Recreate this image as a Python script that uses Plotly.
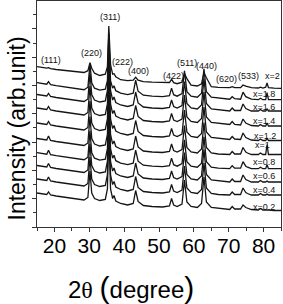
import plotly.graph_objects as go

# 2-theta sampling positions (degree), shared by all patterns
two_theta = [15, 16.5, 17.8, 18.3, 18.9, 20.5, 22.5, 24.5, 26.5, 28.5,
             29.6, 30.2, 30.7, 31.5, 33, 34.6, 35.2, 35.6, 36.1, 36.7,
             37.1, 37.6, 39, 41, 42.6, 43.3, 44.0, 45.5, 48, 51,
             53.0, 53.6, 54.2, 55.2, 56.6, 57.3, 58.0, 59.2, 61.0, 62.2,
             62.9, 63.6, 65, 67, 70.3, 71.0, 71.7, 73.4, 74.1, 74.9,
             75.4, 76.5, 78.5, 79.1, 79.8, 80.6, 81.0, 81.4, 83, 85]

# sample labels (bottom to top) and vertical offsets of the stacked patterns
samples = ["x=0.2", "x=0.4", "x=0.6", "x=0.8", "x=1", "x=1.2", "x=1.4", "x=1.6", "x=1.8", "x=2"]
offsets = [34, 48, 61.5, 74.3, 88.5, 104, 119, 132.5, 144.3, 160.3]

# relative intensity of each pattern (arb. unit)
pat_02 = [0, -1, -1.5, 1, -2, -3, -4, -5, -6, -7,
          -4.5, 22, 0, -5.5, -7.5, -6.5, 4, 60, 4, -5.5,
          -2.5, -8, -10.5, -12, -10.5, 2.5, -8.5, -12.5, -13.5, -14,
          -13, -5.5, -12, -13.5, -11, 13, -9, -13.5, -14.5, -10.5,
          16, -9, -14.5, -15.5, -16.5, -13.5, -16, -16, -12, -14.5,
          -15, -16.5, -17, -15.5, -17, -17, -16.5, -17, -17.5, -17.5]
pat_04 = [0, -1, -1.5, 2, -2, -3, -4, -5, -6, -7,
          -4.5, 22, 0, -5.5, -7.5, -6.5, 4, 60, 4, -5.5,
          -2.5, -8, -10.5, -12, -10.5, 2.5, -8.5, -12.5, -13.5, -14,
          -13, -5.5, -12, -13.5, -11, 13, -9, -13.5, -14.5, -10.5,
          16, -9, -14.5, -15.5, -16, -13, -15.5, -15.5, -9, -13.5,
          -14.5, -16, -16, -14.5, -16, -16, -15, -16, -16, -16]
pat_06 = [0, -1, -1.5, 2, -2, -3, -4, -5, -6, -7,
          -4.5, 22, 0, -5.5, -7.5, -6.5, 4, 60, 4, -5.5,
          -2.5, -8, -10.5, -12, -10.5, 2.5, -8.5, -12.5, -13.5, -14,
          -13, -5.5, -12, -13.5, -11, 13, -9, -13.5, -14.5, -10.5,
          16, -9, -14.5, -15.5, -16.5, -13.5, -16, -16, -9.5, -14,
          -15, -16.5, -16.5, -15, -16.5, -16.5, -15.5, -16.5, -16.5, -16.5]
pat_08 = [0, -1, -1.5, 2.5, -2, -3, -4, -5, -6, -7,
          -4.5, 22, 0, -5.5, -7.5, -6.5, 4, 60, 4, -5.5,
          -2.5, -8, -10.5, -12, -10.5, 2.5, -8.5, -12.5, -13.5, -14,
          -13, -5.5, -12, -13.5, -11, 13, -9, -13.5, -14.5, -10.5,
          16, -9, -14.5, -15.5, -16, -13, -15.5, -15.5, -9, -13.5,
          -14.5, -16, -16, -14.5, -16, -16, -12, -16, -16, -16]
pat_10 = [0, -1, -1.5, 2.5, -2, -3, -4, -5, -6, -7,
          -4.5, 22, 0, -5.5, -7.5, -6.5, 4, 60, 4, -5.5,
          -2.5, -8, -10.5, -12, -10.5, 2.5, -8.5, -12.5, -13.5, -14,
          -13, -5.5, -12, -13.5, -11, 13, -9, -13.5, -14.5, -10.5,
          16, -9, -14.5, -15.5, -16, -13, -15.5, -15.5, -9, -13.5,
          -14.5, -16, -16, -14.5, -16, -16, -6, -16, -16, -16]
pat_12 = [0, -1, -1.5, 1.5, -2, -3, -4, -5, -6, -7,
          -4.5, 22, 0, -5.5, -7.5, -6.5, 4, 60, 4, -5.5,
          -2.5, -8, -10.5, -12, -10.5, 2.5, -8.5, -12.5, -13.5, -14,
          -13, -5.5, -12, -13.5, -11, 13, -9, -13.5, -14.5, -10.5,
          16, -9, -14.5, -15.5, -16.5, -13.5, -16, -16.5, -10, -14.5,
          -15.5, -17, -17.5, -16, -17.5, -17.5, -15.5, -17.5, -17.5, -17.5]
pat_14 = [0, -1, -1.5, 1.5, -2, -3, -4, -5, -6, -7,
          -4.5, 22, 0, -5.5, -7.5, -6.5, 4, 60, 4, -5.5,
          -2.5, -8, -10.5, -12, -10.5, 2.5, -8.5, -12.5, -13.5, -14,
          -13, -5.5, -12, -13.5, -11, 13, -9, -13.5, -14.5, -10.5,
          16, -9, -14.5, -15.5, -16.5, -13.5, -16.5, -17, -11, -15,
          -16, -17.5, -18, -16.5, -18, -18, -15, -18, -18, -18]
pat_16 = [0, -1, -1.5, 1, -2, -3, -4, -5, -6, -7,
          -4.5, 22, 0, -5.5, -7.5, -6.5, 4, 60, 4, -5.5,
          -2.5, -8, -10.5, -12, -10.5, 2.5, -8.5, -12.5, -13.5, -14,
          -13, -5.5, -12, -13.5, -11, 13, -9, -13.5, -14.5, -10.5,
          16, -9, -14.5, -15.5, -16.5, -13.5, -16, -16, -9.5, -14,
          -15, -16.5, -16.5, -15, -16.5, -16.5, -14.5, -16.5, -16.5, -16.5]
pat_18 = [0, -1, -1.5, 1, -2, -3, -4, -5, -6, -7,
          -4.5, 19, 0, -5.5, -7.5, -6.5, 2, 50, 2, -5.5,
          -3, -8, -10.5, -12, -10.5, 2.5, -8.5, -12.5, -13.5, -14,
          -13, -5.5, -12, -13.5, -11, 12, -9, -13.5, -14.5, -10.5,
          14, -9, -14.5, -15.5, -16.5, -14, -16, -16.5, -9.5, -14,
          -15, -16.5, -17, -15.5, -17, -17, -10, -17, -17, -17]
pat_20 = [0, -0.8, -1.5, -1, -2, -2.8, -3.6, -4.5, -5.3, -5.8,
          -4, 4, -1.5, -6.5, -8.8, -7.5, 0, 40.7, 2, -7.5,
          -7, -10, -13, -14, -13.5, -10.6, -13.5, -15, -15.5, -16,
          -15.8, -12.6, -16, -17, -15.5, -6.6, -12, -18.5, -19.3, -17,
          -6, -11, -20, -20.6, -21, -20, -21, -21, -18.3, -19.5,
          -20, -21, -21.3, -20.5, -21.3, -20.5, -16.3, -21, -21.4, -21.6]
patterns = [pat_02, pat_04, pat_06, pat_08, pat_10, pat_12, pat_14, pat_16, pat_18, pat_20]

# sample label positions (degree, intensity)
sample_lab_x = [80.25, 80.25, 80.25, 80.25, 79.8, 80.3, 80.25, 80.25, 80.25, 82.55]
sample_lab_y = [20.3, 37, 51, 65.3, 82, 91, 106.3, 120, 133, 151]

# Miller index labels
hkl = ["(111)", "(220)", "(311)", "(222)", "(400)", "(422)", "(511)", "(440)", "(620)", "(533)"]
hkl_x = [19.1, 30.6, 35.9, 39.6, 44.1, 54.05, 58.15, 63.75, 69.35, 75.65]
hkl_y = [167, 173.7, 209.7, 165.3, 156.3, 151, 163.7, 161.3, 148, 151.3]

FONT = "Arial, Liberation Sans, Helvetica, sans-serif"

fig = go.Figure()
for name, off, pat in zip(samples, offsets, patterns):
    fig.add_trace(go.Scatter(
        x=two_theta, y=[off + v for v in pat], mode="lines", name=name,
        line=dict(color="#151515", width=1.3), showlegend=False, hoverinfo="skip"))

annotations = []
for t, x, y in zip(samples, sample_lab_x, sample_lab_y):
    annotations.append(dict(x=x, y=y, xref="x", yref="y", text=t, showarrow=False,
                            font=dict(family=FONT, size=9, color="#111")))
for t, x, y in zip(hkl, hkl_x, hkl_y):
    annotations.append(dict(x=x, y=y, xref="x", yref="y", text=t, showarrow=False,
                            font=dict(family=FONT, size=9, color="#111")))

annotations.append(dict(
    x=(131 - 37) / 244, y=(227 - 287) / 226, xref="paper", yref="paper",
    text="2<span style='font-family:Liberation Serif, Times New Roman, serif'>θ</span> "
         "<span style='font-size:30px'>(</span>degree<span style='font-size:30px'>)</span>",
    showarrow=False, xanchor="center", yanchor="middle",
    font=dict(family=FONT, size=24, color="#000")))
annotations.append(dict(
    x=(16 - 37) / 244, y=(227 - 128.5) / 226, xref="paper", yref="paper",
    text="Intensity (arb.unit)", textangle=-90, showarrow=False,
    xanchor="center", yanchor="middle",
    font=dict(family=FONT, size=23, color="#000")))

fig.update_layout(
    width=283, height=304,
    margin=dict(l=37, r=2, t=1, b=77),
    paper_bgcolor="white", plot_bgcolor="white",
    annotations=annotations,
    font=dict(family=FONT, color="#000"),
)
fig.update_xaxes(
    range=[15, 85], tick0=20, dtick=10, ticks="outside", ticklen=4, tickwidth=1,
    tickcolor="#333", showline=True, linecolor="#333", linewidth=1, mirror=True,
    showgrid=False, zeroline=False, ticklabelstandoff=-4,
    tickfont=dict(family=FONT, size=21, color="#000"),
    minor=dict(tick0=15, dtick=5, ticks="outside", ticklen=3, tickcolor="#333", showgrid=False),
)
fig.update_yaxes(
    range=[0, 226], tick0=0, dtick=28.3, ticks="outside", ticklen=4, tickwidth=1,
    tickcolor="#333", showline=True, linecolor="#333", linewidth=1, mirror=True,
    showgrid=False, zeroline=False, showticklabels=False,
    minor=dict(tick0=0, dtick=14.15, ticks="outside", ticklen=3, tickcolor="#333", showgrid=False),
)

fig.write_html("out.html", config={"displayModeBar": False},
               post_script="document.body.style.margin='0';document.body.style.overflow='hidden';")
